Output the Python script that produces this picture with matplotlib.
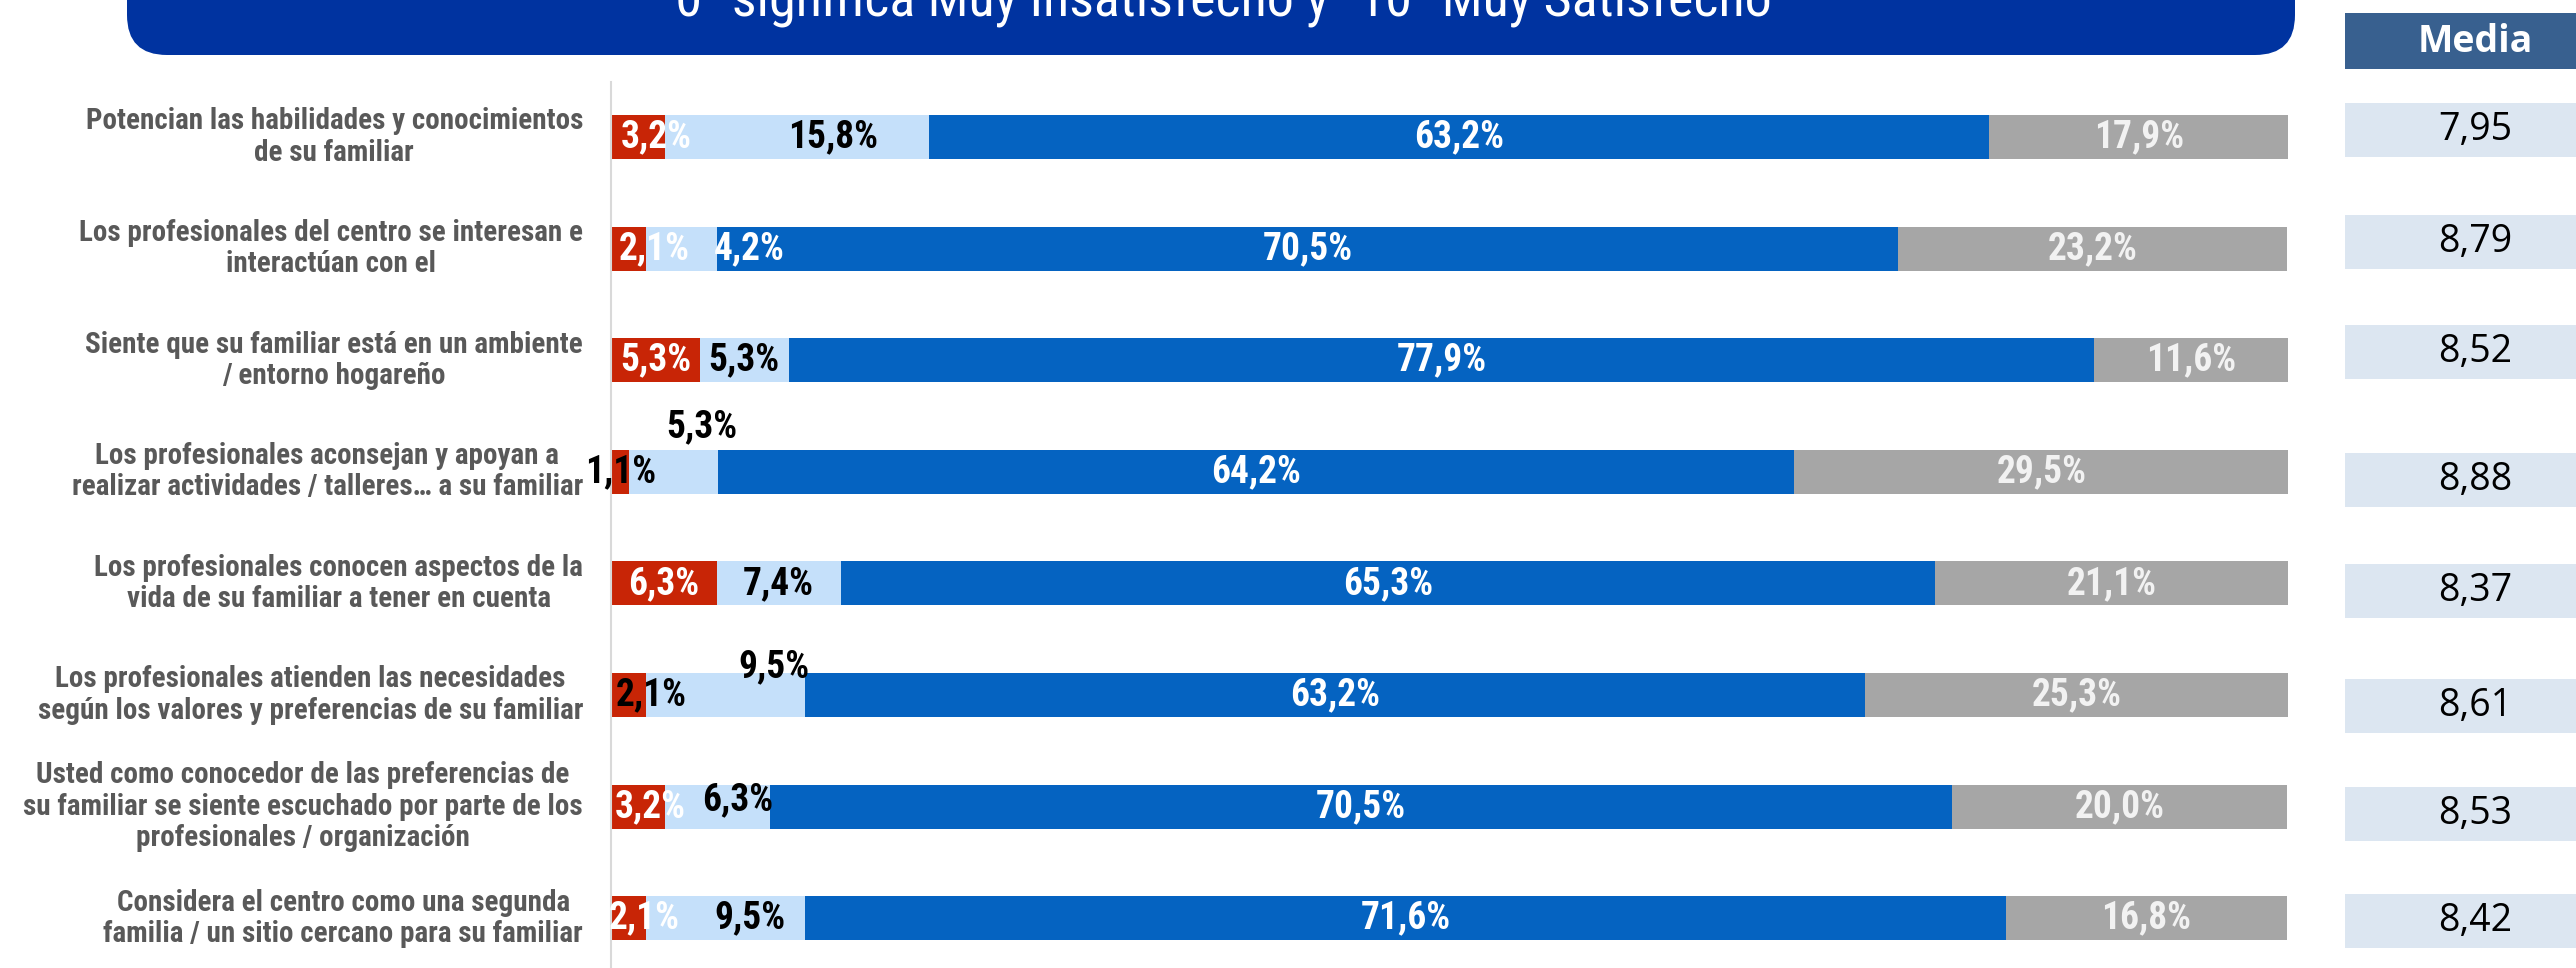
import numpy as np
import matplotlib
matplotlib.use("Agg")
import matplotlib.pyplot as plt
import matplotlib.font_manager as fm
from matplotlib.patches import FancyBboxPatch, Rectangle

# ---- data ----
items = [
    "Potencian las habilidades y conocimientos\nde su familiar",
    "Los profesionales del centro se interesan e\ninteractúan con el",
    "Siente que su familiar está en un ambiente\n/ entorno hogareño",
    "Los profesionales aconsejan y apoyan a\nrealizar actividades / talleres… a su familiar",
    "Los profesionales conocen aspectos de la\nvida de su familiar a tener en cuenta",
    "Los profesionales atienden las necesidades\nsegún los valores y preferencias de su familiar",
    "Usted como conocedor de las preferencias de\nsu familiar se siente escuchado por parte de los\nprofesionales / organización",
    "Considera el centro como una segunda\nfamilia / un sitio cercano para su familiar",
]
red = [3.2, 2.1, 5.3, 1.1, 6.3, 2.1, 3.2, 2.1]
light = [15.8, 4.2, 5.3, 5.3, 7.4, 9.5, 6.3, 9.5]
blue = [63.2, 70.5, 77.9, 64.2, 65.3, 63.2, 70.5, 71.6]
grey = [17.9, 23.2, 11.6, 29.5, 21.1, 25.3, 20.0, 16.8]
media = [7.95, 8.79, 8.52, 8.88, 8.37, 8.61, 8.53, 8.42]
title = '"0" significa Muy Insatisfecho y "10" Muy Satisfecho'

# ---- style ----
c_red, c_light, c_blue, c_grey = "#C82506", "#C5E0FA", "#0563C1", "#A6A6A6"
names = {f.name for f in fm.fontManager.ttflist}


def pick(*cands):
    return next((n for n in cands if n in names), "DejaVu Sans")


narrow = pick("Liberation Sans Narrow", "Roboto Condensed", "Liberation Sans")
wide = pick("Open Sans", "Liberation Sans")

# label tweaks: (row, segment) -> (dx in %, dy in px); label colour overrides
shifts = {(0, 0): (1.07, 0), (0, 1): (2.15, 0), (1, 0): (1.55, 0), (1, 1): (4.05, 0),
          (3, 1): (1.67, -45), (5, 0): (1.37, 0), (5, 1): (2.86, -28),
          (6, 0): (0.77, 0), (6, 1): (1.19, -7), (7, 0): (0.95, 0), (7, 1): (1.43, 0)}
colour_over = {(3, 0): "black", (5, 0): "black", (1, 1): "white"}
seg_text = ["white", "black", "white", "#F2F2F2"]
media_shift = [-7, -7, -8, 8, 8, 11, 7, 3]  # px, table rows vs bar rows

W, H = 2576, 968
fig = plt.figure(figsize=(W / 100, H / 100), dpi=100)

# pixel overlay for banner / header
bg = fig.add_axes([0, 0, 1, 1], zorder=0)
bg.set_xlim(0, W)
bg.set_ylim(H, 0)
bg.axis("off")
bg.add_patch(FancyBboxPatch((127, -80), 2295 - 127, 135, boxstyle="round,pad=0,rounding_size=40",
                            fc="#0033A0", ec="none"))
bg.text(1215, 16, title, ha="center", va="baseline", color="white", fontsize=39, family=narrow)
bg.add_patch(Rectangle((2345, 13), W - 2345, 56, fc="#38608F", ec="none"))
bg.text(2475, 42, "Media", ha="center", va="center", color="white", fontsize=27,
        fontweight="bold", family=wide)

# main stacked bars
row_px = 111.6
ax = fig.add_axes([611 / W, 0, (2288 - 611) / W, (H - 82) / H], zorder=2)
ax.patch.set_alpha(0)
y = np.arange(len(items))
segments = [red, light, blue, grey]
colours = [c_red, c_light, c_blue, c_grey]
left = np.zeros(len(items))
for s, (vals, col) in enumerate(zip(segments, colours)):
    vals = np.array(vals)
    ax.barh(y, vals, left=left, height=44 / row_px, color=col, edgecolor="none")
    for i, v in enumerate(vals):
        dx, dy = shifts.get((i, s), (0, 0))
        ax.annotate(f"{v:.1f}%".replace(".", ","), (left[i] + v / 2 + dx, i),
                    xytext=(0, -dy), textcoords="offset pixels", ha="center", va="center",
                    fontsize=27, fontweight="bold", family=narrow,
                    color=colour_over.get((i, s), seg_text[s]), zorder=5)
    left += vals

ax.set_xlim(0, 100.05)
ax.set_ylim((H - 137) / row_px, -55 / row_px)
ax.set_xticks([])
ax.set_yticks([])
for side in ["top", "right", "bottom"]:
    ax.spines[side].set_visible(False)
ax.spines["left"].set_color("#D9D9D9")
ax.spines["left"].set_linewidth(1.5)
for i, lab in enumerate(items):
    ax.annotate(lab, (0, i), xytext=(-28, 0), textcoords="offset pixels", ha="right", va="center",
                multialignment="center", fontsize=21, fontweight="bold", family=narrow,
                color="#595959", linespacing=1.15, annotation_clip=False)

# media table
tab = fig.add_axes([2345 / W, 0, (W - 2345) / W, (H - 82) / H], sharey=ax, zorder=1)
tab.axis("off")
ty = y + np.array(media_shift) / row_px
tab.barh(ty, [1] * len(media), height=54 / row_px, color="#DCE6F1", edgecolor="none")
tab.set_xlim(0, 1)
for yy, m in zip(ty, media):
    tab.text(0.565, yy, f"{m:.2f}".replace(".", ","), ha="center", va="center",
             fontsize=27, family=wide, color="black")

fig.savefig("out.png", dpi=100)
